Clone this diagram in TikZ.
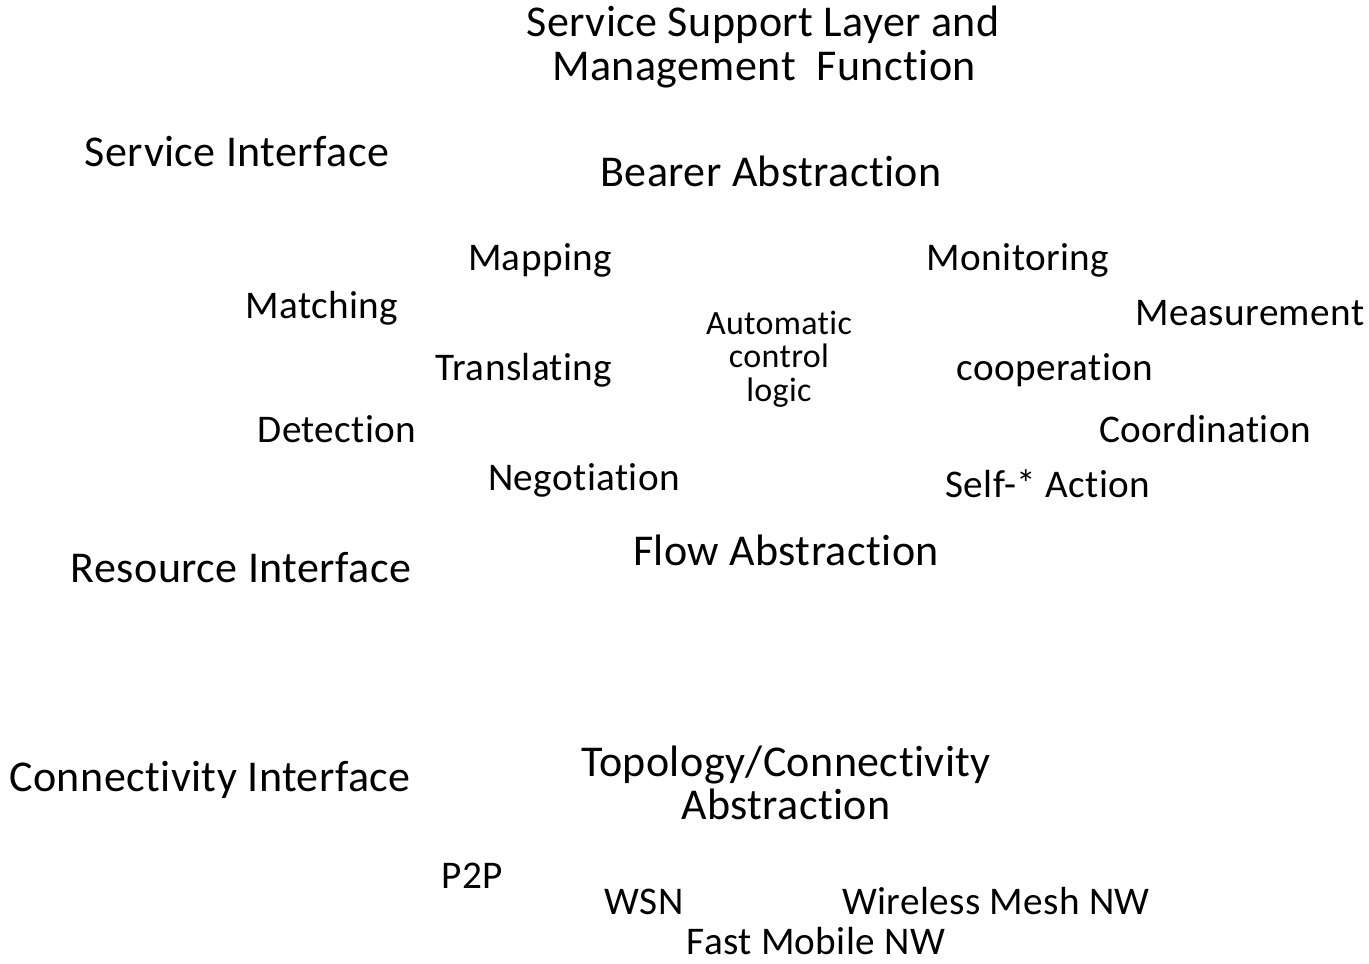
\documentclass[tikz,border=0pt]{standalone}
\usepackage{fontspec}
\setmainfont{Carlito}[Ligatures=NoCommon,LetterSpace=1]
\begin{document}
\begin{tikzpicture}[x=0.5pt,y=-0.5pt,
  big/.style={anchor=base,inner sep=0pt,font=\fontsize{22}{22}\selectfont},
  mid/.style={anchor=base,inner sep=0pt,font=\fontsize{19.6}{19.6}\selectfont},
  small/.style={anchor=base,inner sep=0pt,font=\fontsize{17}{17}\selectfont}]
\useasboundingbox[fill=white] (0,0) rectangle (1369,963);
\node[big] (t1) at (763,37) {Service Support Layer and};
\node[big] (t2) at (764,81) {Management\ \ Function};
\node[big] (si) at (237,166) {Service Interface};
\node[big] (ba) at (771,186) {Bearer Abstraction};
\node[mid] (map) at (540,270) {Mapping};
\node[mid] (mon) at (1018,270) {Monitoring};
\node[mid] (mat) at (322,318) {Matching};
\node[mid] (mea) at (1250,325) {Measurement};
\node[small] (acl1) at (779,334) {Automatic};
\node[small] (acl2) at (779,367) {control};
\node[small] (acl3) at (779,401) {logic};
\node[mid] (tra) at (524,380) {Translating};
\node[mid] (coo) at (1055,380) {cooperation};
\node[mid] (det) at (337,442) {Detection};
\node[mid] (cor) at (1205,442) {Coordination};
\node[mid] (neg) at (584,490) {Negotiation};
\node[mid] (sel) at (1048,497) {Self-* Action};
\node[big] (fa) at (786,565) {Flow Abstraction};
\node[big] (ri) at (241,582) {Resource Interface};
\node[big] (ci) at (210,791) {Connectivity Interface};
\node[big] (tc1) at (786,776) {Topology/Connectivity};
\node[big] (tc2) at (786,819) {Abstraction};
\node[mid] (p2p) at (472,888) {P2P};
\node[mid] (wsn) at (644,914) {WSN};
\node[mid] (wm) at (996,914) {Wireless Mesh NW};
\node[mid] (fm) at (816,954) {Fast Mobile NW};
\end{tikzpicture}
\end{document}
